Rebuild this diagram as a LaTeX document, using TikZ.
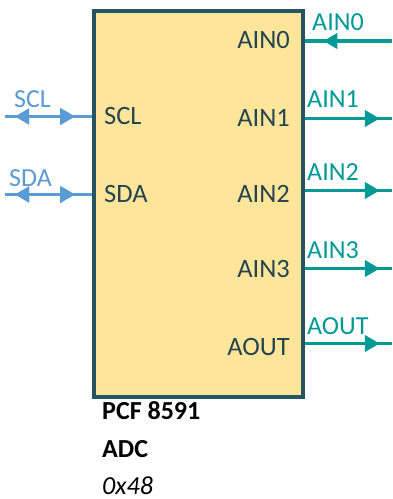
\documentclass[tikz,border=0pt]{standalone}
\usepackage{fontspec}
\setmainfont{Carlito}
\usetikzlibrary{arrows.meta,positioning,decorations.markings}
\definecolor{ChipFill}{RGB}{255,229,153}
\definecolor{ChipEdge}{RGB}{38,84,98}
\definecolor{PinText}{RGB}{36,68,80}
\definecolor{TealLine}{RGB}{0,153,150}
\definecolor{BusBlue}{RGB}{91,155,213}

\begin{document}
\begin{tikzpicture}[x=1pt, y=-1pt,
    font=\fontsize{26.5}{28}\selectfont,
    ic/.style={draw=ChipEdge, fill=ChipFill, line width=4pt,
               minimum width=209pt, minimum height=386.5pt, inner sep=0pt},
    pin/.style={text=PinText, inner sep=0pt},
    sig/.style={font=\fontsize{26}{28}\selectfont, inner sep=0pt, anchor=west},
    ana/.style={TealLine, line width=3.8pt},
    bus/.style={BusBlue, line width=3.8pt},
    tip/.style={postaction={decorate}, decoration={markings,
               mark=at position #1 with {\arrow{Triangle[length=15pt,width=16pt]}}}},
    pit/.style={postaction={decorate}, decoration={markings,
               mark=at position #1 with {\arrowreversed{Triangle[length=14pt,width=15pt]}}}},
    info/.style={inner sep=0pt, anchor=base west, text depth=0pt}
  ]
  \useasboundingbox (0,0) rectangle (392,499);

  % chip body
  \node[ic] (adc) at (198.5,203.75) {};

  % pin names inside
  \node[pin, anchor=west] (scl) at (104,115.5) {SCL};
  \node[pin, anchor=west] (sda) at (104,193.5) {SDA};
  \node[pin, anchor=east] (ain0) at (290,40) {AIN0};
  \node[pin, anchor=east] (ain1) at (290,117.5) {AIN1};
  \node[pin, anchor=east] (ain2) at (290,193.5) {AIN2};
  \node[pin, anchor=east] (ain3) at (290,268.5) {AIN3};
  \node[pin, anchor=east] (aout) at (290,347) {AOUT};

  % free ends
  \coordinate (sclx) at (5,116.5);
  \coordinate (sdax) at (5,194.5);
  \coordinate (ain0x) at (392,41);
  \coordinate (ain1x) at (392,118.5);
  \coordinate (ain2x) at (392,190.5);
  \coordinate (ain3x) at (392,268.5);
  \coordinate (aoutx) at (392,343.5);

  % I2C bus
  \draw[bus, tip=0.805, pit=0.115] (sclx) -- (adc.west |- sclx);
  \draw[bus, tip=0.805, pit=0.115] (sdax) -- (adc.west |- sdax);
  \node[sig, BusBlue] at (14,99) {SCL};
  \node[sig, BusBlue] at (9,178) {SDA};

  % analog lines
  \draw[ana, pit=0.21] (adc.east |- ain0x) -- (ain0x);
  \draw[ana, tip=0.86] (adc.east |- ain1x) -- (ain1x);
  \draw[ana, tip=0.86] (adc.east |- ain2x) -- (ain2x);
  \draw[ana, tip=0.86] (adc.east |- ain3x) -- (ain3x);
  \draw[ana, tip=0.86] (adc.east |- aoutx) -- (aoutx);
  \node[sig, TealLine] at (312,22) {AIN0};
  \node[sig, TealLine] at (307,99) {AIN1};
  \node[sig, TealLine] at (307,172) {AIN2};
  \node[sig, TealLine] at (307,250) {AIN3};
  \node[sig, TealLine] at (307,326) {AOUT};

  % part info
  \node[info, font=\fontsize{26}{28}\selectfont\bfseries] (part) at (102,419.5) {PCF 8591};
  \node[info, font=\fontsize{26}{28}\selectfont\bfseries] (kind) at (102,457.5) {ADC};
  \node[info, font=\fontsize{26}{28}\selectfont\itshape] (addr) at (102,494) {0x48};
\end{tikzpicture}
\end{document}
